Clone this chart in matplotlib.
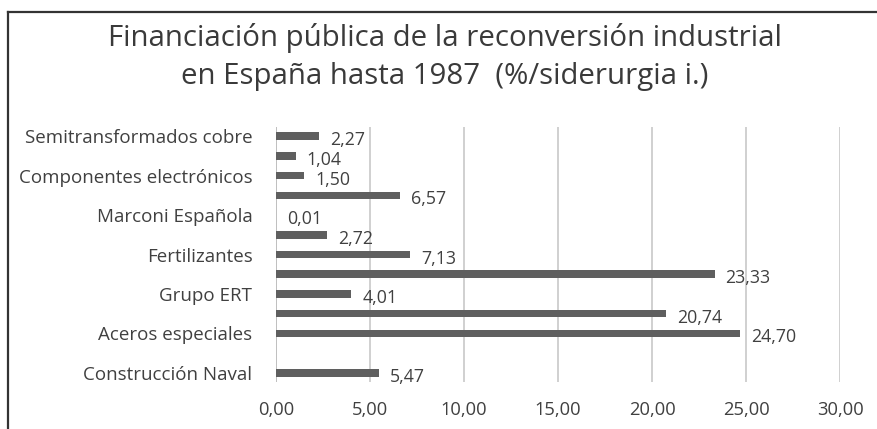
import matplotlib
matplotlib.use("Agg")
import matplotlib.pyplot as plt
import numpy as np
from matplotlib.lines import Line2D

plt.rcParams['font.family'] = ['Open Sans', 'DejaVu Sans']

# Categories bottom -> top (Excel shows only every other label)
categories = ["Construcción Naval", "", "Aceros especiales", "", "Grupo ERT", "",
              "Fertilizantes", "", "Marconi Española", "", "Componentes electrónicos",
              "", "Semitransformados cobre"]
values = [5.47, np.nan, 24.70, 20.74, 4.01, 23.33, 7.13, 2.72, 0.01, 6.57, 1.50, 1.04, 2.27]
xticks = [0, 5, 10, 15, 20, 25, 30]
title = "Financiación pública de la reconversión industrial\nen España hasta 1987  (%/siderurgia i.)"

W, H = 877, 429
fig = plt.figure(figsize=(W / 100, H / 100), dpi=100)
ax = fig.add_axes([276 / W, 1 - 382 / H, (840 - 276) / W, (382 - 127) / H])

ypos = np.arange(len(categories))
ax.barh(ypos, values, height=0.38, color="#5f5f5f", zorder=3)

for y, v in zip(ypos, values):
    if np.isnan(v):
        continue
    ax.annotate(f"{v:.2f}".replace(".", ","), xy=(v, y), xytext=(11, -4),
                textcoords="offset pixels", ha="left", va="center",
                fontsize=12.8, color="#404040", zorder=4)

ax.set_xlim(0, 30)
ax.set_ylim(-0.46, len(categories) - 1 + 0.46)
ax.set_xticks(xticks)
ax.set_xticklabels([f"{t:.2f}".replace(".", ",") for t in xticks])
ax.set_yticks(ypos)
ax.set_yticklabels(categories)
ax.tick_params(axis="x", length=0, pad=14, labelsize=13.2, labelcolor="#404040")
ax.tick_params(axis="y", length=0, pad=17, labelsize=13.5, labelcolor="#404040")
ax.xaxis.grid(True, color="#c8c8c8", linewidth=1.2, zorder=0)
for s in ax.spines.values():
    s.set_visible(False)
ax.axvline(0, color="#bdbdbd", linewidth=1.2, zorder=2)

fig.text(445 / W, 1 - 57 / H, title, ha="center", va="center", fontsize=21.2,
         color="#3a3a3a", linespacing=1.4)

# outer frame lines (as in the scanned reference)
fig.add_artist(Line2D([8 / W, 1], [1 - 12 / H, 1 - 12 / H], color="#333333", linewidth=1.6))
fig.add_artist(Line2D([8 / W, 8 / W], [1 - 12 / H, 0], color="#333333", linewidth=1.6))

fig.savefig("out.png", dpi=100)
